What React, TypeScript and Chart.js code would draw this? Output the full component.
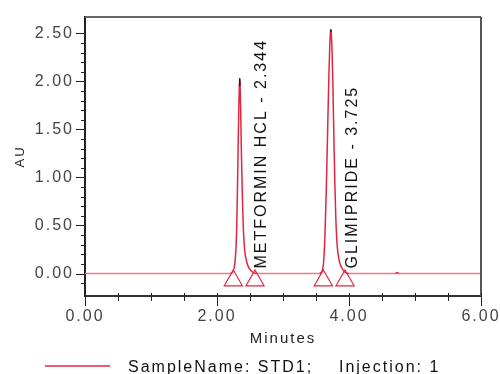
import React, { useEffect, useRef } from "react";
import { Chart, registerables } from "chart.js";

Chart.register(...registerables);

// ---------- data ----------
const seriesLabel = "SampleName: STD1;    Injection: 1";
const times = [
  0.0, 2.2, 2.24, 2.27, 2.29, 2.3, 2.31, 2.32, 2.33, 2.338, 2.344, 2.35, 2.358, 2.37, 2.385, 2.4, 2.42, 2.45, 2.49, 2.54, 2.6,
  3.55, 3.59, 3.615, 3.635, 3.655, 3.675, 3.695, 3.71, 3.72, 3.725, 3.73, 3.74, 3.755, 3.77, 3.785, 3.8, 3.82, 3.85, 3.89, 3.94, 4.0,
  4.7, 4.73, 4.76, 6.0,
];
const absorbance = [
  0.0, 0.0, 0.02, 0.1, 0.3, 0.52, 0.88, 1.32, 1.72, 1.95, 2.03, 1.96, 1.72, 1.25, 0.78, 0.45, 0.24, 0.12, 0.05, 0.015, 0.0,
  0.0, 0.02, 0.12, 0.38, 0.85, 1.45, 2.05, 2.4, 2.52, 2.54, 2.51, 2.38, 2.0, 1.45, 0.95, 0.58, 0.3, 0.14, 0.06, 0.015, 0.0,
  0.0, 0.01, 0.0, 0.0,
];
// dark apex overlay
const tipTimes = [2.338, 2.344, 2.35, null, 3.72, 3.725, 3.73];
const tipValues = [1.95, 2.03, 1.96, null, 2.52, 2.54, 2.51];
// peak labels
const peakNames = ["METFORMIN HCL", "GLIMIPRIDE"];
const peakTimes = [2.344, 3.725];
// integration markers (triangles)
const markerTimes = [2.247, 2.576, 3.611, 3.94];
const markerValues = [-0.073, -0.073, -0.073, -0.073];
// axes
const xTickLabels = ["0.00", "2.00", "4.00", "6.00"];
const yTickLabels = ["0.00", "0.50", "1.00", "1.50", "2.00", "2.50"];
const xRange = [0, 6];
const yRange = [-0.234, 2.67];
const xTitle = "Minutes";
const yTitle = "AU";

const RED = "rgb(226, 38, 66)";
const BASE = "rgb(242, 120, 140)";
const FONT = "'Liberation Sans', Arial, Helvetica, sans-serif";

const decoPlugin = {
  id: "deco",
  beforeUpdate(chart: any) {
    chart.ctx.letterSpacing = "2px";
  },
  beforeDraw(chart: any) {
    const ctx = chart.ctx;
    ctx.save();
    ctx.fillStyle = "#ffffff";
    ctx.fillRect(0, 0, chart.width, chart.height);
    ctx.restore();
    ctx.letterSpacing = "2px";
  },
  afterDraw(chart: any) {
    const ctx = chart.ctx;
    const xs = chart.scales.x;
    const ys = chart.scales.y;
    const area = chart.chartArea;
    ctx.save();
    ctx.letterSpacing = "2px";

    // frame top/right
    ctx.strokeStyle = "#666";
    ctx.lineWidth = 2;
    ctx.beginPath();
    ctx.moveTo(area.left, area.top);
    ctx.lineTo(area.right, area.top);
    ctx.stroke();
    ctx.strokeStyle = "#555";
    ctx.beginPath();
    ctx.moveTo(area.right, area.top);
    ctx.lineTo(area.right, area.bottom);
    ctx.stroke();

    // y ticks
    ctx.strokeStyle = "#222";
    ctx.lineWidth = 1;
    for (const t of ys.ticks) {
      const y = Math.round(ys.getPixelForValue(t.value)) + 0.5;
      const major = Math.abs(t.value * 2 - Math.round(t.value * 2)) < 1e-6;
      const len = major ? 9 : 4;
      ctx.beginPath();
      ctx.moveTo(area.left - len, y);
      ctx.lineTo(area.left, y);
      ctx.stroke();
    }
    // x ticks
    for (const t of xs.ticks) {
      const x = Math.round(xs.getPixelForValue(t.value)) + 0.5;
      const major = Math.abs(t.value / 2 - Math.round(t.value / 2)) < 1e-6;
      const len = major ? 10 : 5;
      ctx.beginPath();
      ctx.moveTo(x, area.bottom - 3);
      ctx.lineTo(x, area.bottom + len);
      ctx.stroke();
    }

    // peak labels
    const y0 = ys.getPixelForValue(0);
    ctx.fillStyle = "#111";
    ctx.font = `16px ${FONT}`;
    ctx.textAlign = "left";
    ctx.textBaseline = "alphabetic";
    peakNames.forEach((name, i) => {
      const x = xs.getPixelForValue(peakTimes[i]) + 26;
      ctx.save();
      ctx.translate(x, y0 - 5);
      ctx.rotate(-Math.PI / 2);
      ctx.fillText(`${name} - ${peakTimes[i].toFixed(3)}`, 0, 0);
      ctx.restore();
    });

    // legend
    ctx.strokeStyle = "rgba(226, 38, 66, 0.75)";
    ctx.lineWidth = 2;
    ctx.beginPath();
    ctx.moveTo(45, 366);
    ctx.lineTo(110, 366);
    ctx.stroke();
    ctx.fillStyle = "#111";
    ctx.font = `16px ${FONT}`;
    ctx.fillText(seriesLabel, 128, 371.5);
    ctx.restore();
  },
};

export default function App() {
  const ref = useRef<HTMLCanvasElement | null>(null);

  useEffect(() => {
    const canvas = ref.current;
    if (!canvas) return;
    Chart.defaults.font.family = FONT;
    const mainData = times.map((t, i) => ({ x: t, y: absorbance[i] }));
    const tipData = tipTimes.map((t, i) => ({ x: t === null ? NaN : t, y: tipValues[i] }));
    const markerData = markerTimes.map((t, i) => ({ x: t, y: markerValues[i] }));

    const chart = new Chart(canvas, {
      type: "line",
      data: {
        datasets: [
          {
            label: seriesLabel,
            data: mainData as any,
            borderColor: RED,
            borderWidth: 1.5,
            pointRadius: 0,
            cubicInterpolationMode: "monotone",
            segment: {
              borderColor: (c: any) =>
                c.p0.parsed.y === 0 && c.p1.parsed.y === 0 ? BASE : RED,
            },
            order: 3,
          },
          {
            label: "apex",
            data: tipData as any,
            borderColor: "#1a1a1a",
            borderWidth: 1,
            pointRadius: 0,
            spanGaps: false,
            order: 2,
          },
          {
            label: "markers",
            data: markerData as any,
            showLine: false,
            pointStyle: "triangle",
            pointRadius: 10.5,
            pointBorderColor: RED,
            pointBackgroundColor: "rgba(0,0,0,0)",
            pointBorderWidth: 1.2,
            order: 1,
          },
        ],
      },
      options: {
        animation: false,
        responsive: false,
        devicePixelRatio: 1,
        layout: { padding: { top: 17, right: 19, bottom: 26, left: 0 } },
        plugins: { legend: { display: false }, tooltip: { enabled: false } },
        scales: {
          x: {
            type: "linear",
            min: xRange[0],
            max: xRange[1],
            grid: { display: false, drawTicks: false },
            border: { display: true, color: "#333", width: 2 },
            ticks: {
              stepSize: 0.5,
              autoSkip: false,
              maxRotation: 0,
              padding: 11,
              color: "#444",
              font: { size: 16 },
              callback: (v: any) => {
                const s = Number(v).toFixed(2);
                return xTickLabels.includes(s) ? s : "";
              },
            },
            title: {
              display: true,
              text: xTitle,
              color: "#222",
              font: { size: 15 },
              padding: { top: 0, bottom: 0 },
            },
            afterFit: (s: any) => {
              s.height = 52;
              s.paddingLeft = 0;
              s.paddingRight = 0;
            },
          },
          y: {
            type: "linear",
            min: yRange[0],
            max: yRange[1],
            grid: { display: false, drawTicks: false },
            border: { display: true, color: "#222", width: 2 },
            afterBuildTicks: (s: any) => {
              s.ticks = s.ticks.filter(
                (t: any) => Math.abs(t.value * 10 - Math.round(t.value * 10)) < 1e-6
              );
            },
            ticks: {
              stepSize: 0.1,
              autoSkip: false,
              padding: 11,
              color: "#444",
              font: { size: 16 },
              callback: (v: any) => {
                const s = Number(v).toFixed(2);
                return yTickLabels.includes(s) ? s : "";
              },
            },
            title: {
              display: true,
              text: yTitle,
              color: "#222",
              font: { size: 13 },
              padding: { top: 13, bottom: 0 },
            },
            afterFit: (s: any) => {
              s.width = 85;
              s.paddingTop = 0;
              s.paddingBottom = 0;
            },
          },
        },
      },
      plugins: [decoPlugin],
    });
    return () => chart.destroy();
  }, []);

  return (
    <div style={{ position: "fixed", left: 0, top: 0, width: 500, height: 374, background: "#fff" }}>
      <canvas ref={ref} width={500} height={374} style={{ display: "block" }} />
    </div>
  );
}
